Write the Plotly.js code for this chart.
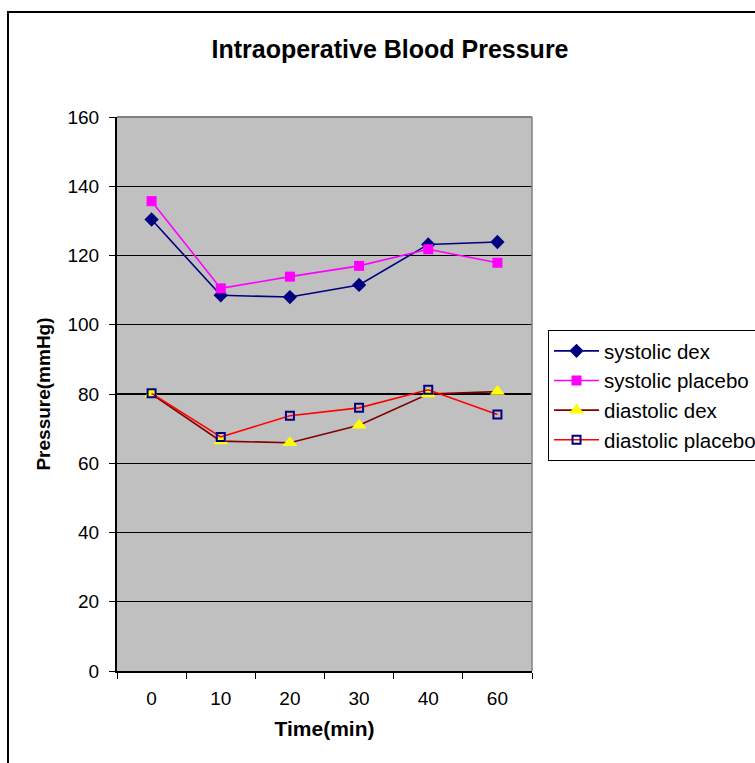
<!DOCTYPE html>
<html>
<head>
<meta charset="utf-8">
<script src="https://cdn.plot.ly/plotly-3.0.1.min.js"></script>
<style>
html,body{margin:0;padding:0;background:#fff;}
#chart{width:755px;height:763px;}
</style>
</head>
<body>
<div id="chart"></div>
<script>
const categories = ["0", "10", "20", "30", "40", "60"];
const systolicDex = [130.4, 108.5, 108.0, 111.5, 123.2, 123.9];
const systolicPlacebo = [135.7, 110.5, 113.9, 117.0, 121.8, 117.9];
const diastolicDex = [80.0, 66.4, 65.9, 71.0, 80.0, 80.7];
const diastolicPlacebo = [80.2, 67.6, 73.7, 76.0, 81.2, 74.1];
const yTicks = [0, 20, 40, 60, 80, 100, 120, 140, 160];

const FONT = "Liberation Sans, Arial, sans-serif";

const traces = [
  {name: "systolic dex", x: categories, y: systolicDex, type: "scatter", mode: "lines+markers",
   line: {color: "#000080", width: 1.6},
   marker: {symbol: "diamond", size: 11, color: "#000080"}, legendgroup: "a"},
  {name: "systolic placebo", x: categories, y: systolicPlacebo, type: "scatter", mode: "lines+markers",
   line: {color: "#ff00ff", width: 1.6},
   marker: {symbol: "square", size: 10, color: "#ff00ff"}, legendgroup: "b"},
  {name: "diastolic dex", x: categories, y: diastolicDex, type: "scatter", mode: "lines+markers",
   line: {color: "#800000", width: 1.6},
   marker: {symbol: "triangle-up", size: 13, color: "#ffff00"}, legendgroup: "c"},
  {name: "diastolic placebo", x: categories, y: diastolicPlacebo, type: "scatter", mode: "lines+markers",
   line: {color: "#ff0000", width: 1.6},
   marker: {symbol: "square-open", size: 8, color: "#000080", line: {width: 2, color: "#000080"}}, legendgroup: "d"}
];

const layout = {
  width: 755, height: 763,
  margin: {l: 117, r: 223, t: 117, b: 92, autoexpand: false},
  paper_bgcolor: "#ffffff",
  plot_bgcolor: "#c0c0c0",
  font: {family: FONT, size: 19, color: "#000"},
  title: {text: "<b>Intraoperative Blood Pressure</b>", font: {family: FONT, size: 25, color: "#000"},
          x: 390 / 755, xanchor: "center", xref: "container", y: 1 - 49 / 763, yanchor: "middle", yref: "container"},
  xaxis: {
    type: "category", range: [-0.5, 5.5],
    tickmode: "array", tickvals: categories, ticktext: categories,
    tickson: "boundaries", ticks: "outside", ticklen: 6, tickcolor: "#000", tickwidth: 1,
    showline: true, linecolor: "#000", linewidth: 2, mirror: false,
    showgrid: false, zeroline: false,
    ticklabelstandoff: 9,
    tickfont: {family: FONT, size: 19, color: "#000"},
    title: {text: "<b>Time(min)</b>", font: {family: FONT, size: 21, color: "#000"}, standoff: 14}
  },
  yaxis: {
    range: [0, 160], tickmode: "array", tickvals: yTicks,
    ticks: "outside", ticklen: 6, tickcolor: "#000", tickwidth: 1,
    showline: true, linecolor: "#000", linewidth: 2,
    showgrid: true, gridcolor: "#000", gridwidth: 1.3,
    zeroline: false,
    ticklabelstandoff: 6,
    tickfont: {family: FONT, size: 19, color: "#000"},
    title: {text: "<b>Pressure(mmHg)</b>", font: {family: FONT, size: 19, color: "#000"}, standoff: 12}
  },
  legend: {
    x: 1.0386, xanchor: "left", y: 0.6155, yanchor: "top",
    bgcolor: "#ffffff", bordercolor: "#000", borderwidth: 1,
    font: {family: FONT, size: 20.5, color: "#000"},
    tracegroupgap: 5, traceorder: "normal", itemwidth: 45
  },
  shapes: [
    {type: "line", xref: "paper", yref: "paper", x0: 1, x1: 1, y0: 0, y1: 1,
     line: {color: "#808080", width: 1.5}},
    {type: "line", xref: "paper", yref: "paper", x0: 0, x1: 1, y0: 1, y1: 1,
     line: {color: "#808080", width: 2}},
    {type: "rect", xref: "paper", yref: "paper", x0: -0.2627, x1: 1.573, y0: -0.197, y1: 1.1895,
     line: {color: "#000", width: 2}, fillcolor: "rgba(0,0,0,0)", layer: "below"}
  ],
  showlegend: true
};

Plotly.newPlot("chart", traces, layout, {displayModeBar: false, staticPlot: true});
</script>
</body>
</html>
